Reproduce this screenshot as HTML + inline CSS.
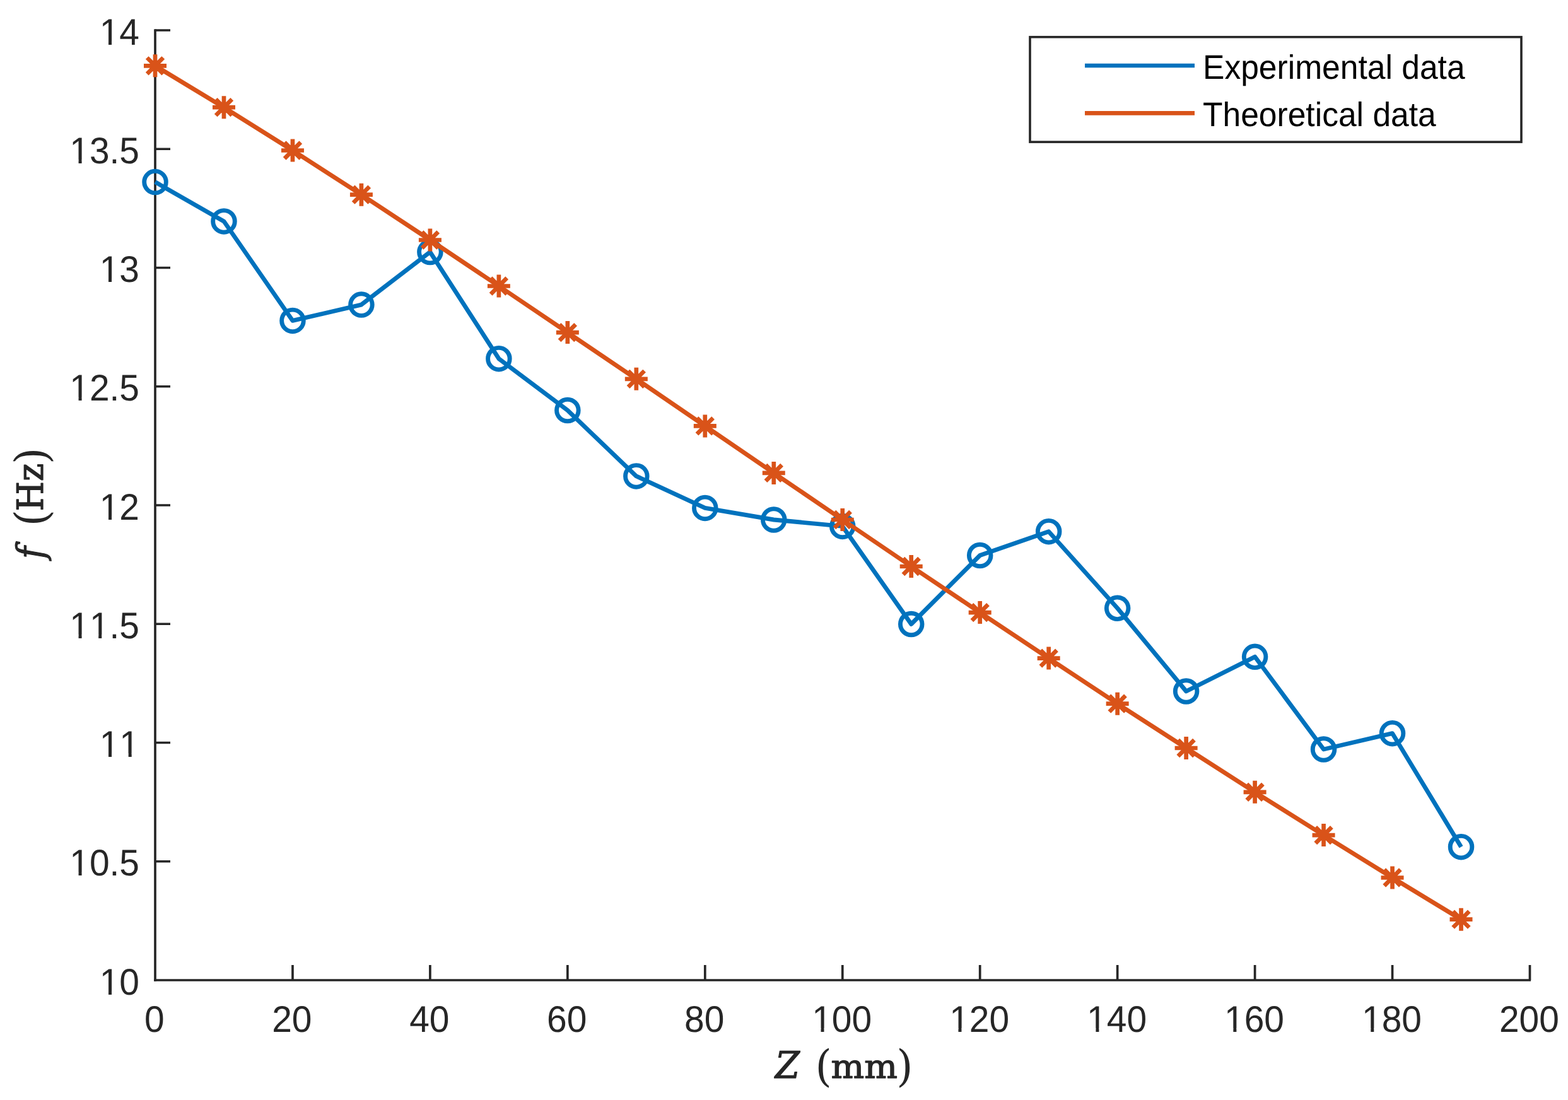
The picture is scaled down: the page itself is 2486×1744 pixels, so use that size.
<!DOCTYPE html>
<html lang="en"><head><meta charset="utf-8"><title>Frequency vs Z</title>
<style>html,body{margin:0;padding:0;background:#fff}body{width:2486px;height:1744px;overflow:hidden}svg{display:block}text{font-family:"Liberation Sans",Arial,Helvetica,sans-serif;font-kerning:none;text-rendering:geometricPrecision}.tk{font-size:58.8px;fill:#262626}.lg{font-size:54.0px;fill:#000}text.sr{font-family:"DejaVu Serif","Liberation Serif",serif;fill:#262626;stroke:#262626;stroke-linejoin:round}</style></head><body>
<svg width="2486" height="1744" viewBox="0 0 2486 1744">
<rect x="0" y="0" width="2486" height="1744" fill="#fff"/>
<g stroke="#262626" stroke-width="3.7" fill="none" stroke-linecap="butt">
<path d="M246.0 46.15 V1555.85"/>
<path d="M244.15 1554.0 H2427.0499999999997"/>
<path d="M463.95 1554.00 V1530.00 M681.90 1554.00 V1530.00 M899.85 1554.00 V1530.00 M1117.80 1554.00 V1530.00 M1335.75 1554.00 V1530.00 M1553.70 1554.00 V1530.00 M1771.65 1554.00 V1530.00 M1989.60 1554.00 V1530.00 M2207.55 1554.00 V1530.00 M2425.50 1554.00 V1530.00 M246.00 1365.75 H270.00 M246.00 1177.50 H270.00 M246.00 989.25 H270.00 M246.00 801.00 H270.00 M246.00 612.75 H270.00 M246.00 424.50 H270.00 M246.00 236.25 H270.00 M246.00 48.00 H270.00"/>
</g>
<g class="tk">
<g transform="translate(244.90 1635.80) scale(0.9677 1)"><text text-anchor="middle">0</text></g>
<g transform="translate(462.85 1635.80) scale(0.9677 1)"><text text-anchor="middle">20</text></g>
<g transform="translate(680.80 1635.80) scale(0.9677 1)"><text text-anchor="middle">40</text></g>
<g transform="translate(898.75 1635.80) scale(0.9677 1)"><text text-anchor="middle">60</text></g>
<g transform="translate(1116.70 1635.80) scale(0.9677 1)"><text text-anchor="middle">80</text></g>
<g transform="translate(1334.65 1635.80) scale(0.9677 1)"><text text-anchor="middle">100</text><rect x="-46.07" y="-5.59" width="11.81" height="7.39" fill="#fff"/><rect x="-29.07" y="-5.59" width="11.35" height="7.39" fill="#fff"/></g>
<g transform="translate(1552.60 1635.80) scale(0.9677 1)"><text text-anchor="middle">120</text><rect x="-46.07" y="-5.59" width="11.81" height="7.39" fill="#fff"/><rect x="-29.07" y="-5.59" width="11.35" height="7.39" fill="#fff"/></g>
<g transform="translate(1770.55 1635.80) scale(0.9677 1)"><text text-anchor="middle">140</text><rect x="-46.07" y="-5.59" width="11.81" height="7.39" fill="#fff"/><rect x="-29.07" y="-5.59" width="11.35" height="7.39" fill="#fff"/></g>
<g transform="translate(1988.50 1635.80) scale(0.9677 1)"><text text-anchor="middle">160</text><rect x="-46.07" y="-5.59" width="11.81" height="7.39" fill="#fff"/><rect x="-29.07" y="-5.59" width="11.35" height="7.39" fill="#fff"/></g>
<g transform="translate(2206.45 1635.80) scale(0.9677 1)"><text text-anchor="middle">180</text><rect x="-46.07" y="-5.59" width="11.81" height="7.39" fill="#fff"/><rect x="-29.07" y="-5.59" width="11.35" height="7.39" fill="#fff"/></g>
<g transform="translate(2424.40 1635.80) scale(0.9677 1)"><text text-anchor="middle">200</text></g>
<g transform="translate(221.00 1576.70) scale(0.9677 1)"><text text-anchor="end">10</text><rect x="-62.42" y="-5.59" width="11.81" height="7.39" fill="#fff"/><rect x="-45.42" y="-5.59" width="11.35" height="7.39" fill="#fff"/></g>
<g transform="translate(221.00 1388.45) scale(0.9677 1)"><text text-anchor="end">10.5</text><rect x="-111.46" y="-5.59" width="11.81" height="7.39" fill="#fff"/><rect x="-94.46" y="-5.59" width="11.35" height="7.39" fill="#fff"/></g>
<g transform="translate(221.00 1200.20) scale(0.9677 1)"><text text-anchor="end">11</text><rect x="-62.42" y="-5.59" width="11.81" height="7.39" fill="#fff"/><rect x="-45.42" y="-5.59" width="11.35" height="7.39" fill="#fff"/><rect x="-29.72" y="-5.59" width="11.81" height="7.39" fill="#fff"/><rect x="-12.72" y="-5.59" width="11.35" height="7.39" fill="#fff"/></g>
<g transform="translate(221.00 1011.95) scale(0.9677 1)"><text text-anchor="end">11.5</text><rect x="-111.46" y="-5.59" width="11.81" height="7.39" fill="#fff"/><rect x="-94.46" y="-5.59" width="11.35" height="7.39" fill="#fff"/><rect x="-78.76" y="-5.59" width="11.81" height="7.39" fill="#fff"/><rect x="-61.76" y="-5.59" width="11.35" height="7.39" fill="#fff"/></g>
<g transform="translate(221.00 823.70) scale(0.9677 1)"><text text-anchor="end">12</text><rect x="-62.42" y="-5.59" width="11.81" height="7.39" fill="#fff"/><rect x="-45.42" y="-5.59" width="11.35" height="7.39" fill="#fff"/></g>
<g transform="translate(221.00 635.45) scale(0.9677 1)"><text text-anchor="end">12.5</text><rect x="-111.46" y="-5.59" width="11.81" height="7.39" fill="#fff"/><rect x="-94.46" y="-5.59" width="11.35" height="7.39" fill="#fff"/></g>
<g transform="translate(221.00 447.20) scale(0.9677 1)"><text text-anchor="end">13</text><rect x="-62.42" y="-5.59" width="11.81" height="7.39" fill="#fff"/><rect x="-45.42" y="-5.59" width="11.35" height="7.39" fill="#fff"/></g>
<g transform="translate(221.00 258.95) scale(0.9677 1)"><text text-anchor="end">13.5</text><rect x="-111.46" y="-5.59" width="11.81" height="7.39" fill="#fff"/><rect x="-94.46" y="-5.59" width="11.35" height="7.39" fill="#fff"/></g>
<g transform="translate(221.00 70.70) scale(0.9677 1)"><text text-anchor="end">14</text><rect x="-62.42" y="-5.59" width="11.81" height="7.39" fill="#fff"/><rect x="-45.42" y="-5.59" width="11.35" height="7.39" fill="#fff"/></g>
</g>
<text class="sr" id="xlabel"><tspan x="1228.89" y="1709.25" font-size="58.44" textLength="38.77" lengthAdjust="spacingAndGlyphs" font-style="italic" stroke-width="1.3">Z</tspan> <tspan x="1292.45" y="1714.35" font-size="69.03" textLength="26.36" lengthAdjust="spacingAndGlyphs" stroke="none">(</tspan><tspan x="1317.54" y="1709.25" font-size="51.95" textLength="105.38" lengthAdjust="spacingAndGlyphs" stroke-width="1.3">mm</tspan><tspan x="1421.13" y="1714.35" font-size="69.03" textLength="26.31" lengthAdjust="spacingAndGlyphs" stroke="none">)</tspan></text>
<text class="sr" id="ylabel" transform="translate(69 802) rotate(-90)"><tspan x="-83.98" y="0.30" font-size="58.90" textLength="19.67" lengthAdjust="spacingAndGlyphs" font-style="italic" stroke-width="1.3">f</tspan> <tspan x="-32.48" y="5.23" font-size="70.45" textLength="26.52" lengthAdjust="spacingAndGlyphs" stroke="none">(</tspan><tspan x="-8.23" y="-0.65" font-size="57.20" textLength="75.67" lengthAdjust="spacingAndGlyphs" stroke-width="1.3">Hz</tspan><tspan x="66.10" y="5.23" font-size="70.45" textLength="26.47" lengthAdjust="spacingAndGlyphs" stroke="none">)</tspan></text>
<g fill="none" stroke="#0072BD" stroke-width="6.9" stroke-linejoin="round" stroke-linecap="butt">
<path d="M246.00 288.60 L354.98 350.90 L463.95 508.40 L572.92 483.10 L681.90 399.60 L790.88 568.70 L899.85 650.50 L1008.83 754.90 L1117.80 805.40 L1226.78 824.00 L1335.75 834.40 L1444.72 989.50 L1553.70 880.50 L1662.67 842.70 L1771.65 964.30 L1880.62 1096.00 L1989.60 1041.30 L2098.57 1188.00 L2207.55 1162.70 L2316.53 1342.70"/>
<circle cx="246.00" cy="288.60" r="17.3"/>
<circle cx="354.98" cy="350.90" r="17.3"/>
<circle cx="463.95" cy="508.40" r="17.3"/>
<circle cx="572.92" cy="483.10" r="17.3"/>
<circle cx="681.90" cy="399.60" r="17.3"/>
<circle cx="790.88" cy="568.70" r="17.3"/>
<circle cx="899.85" cy="650.50" r="17.3"/>
<circle cx="1008.83" cy="754.90" r="17.3"/>
<circle cx="1117.80" cy="805.40" r="17.3"/>
<circle cx="1226.78" cy="824.00" r="17.3"/>
<circle cx="1335.75" cy="834.40" r="17.3"/>
<circle cx="1444.72" cy="989.50" r="17.3"/>
<circle cx="1553.70" cy="880.50" r="17.3"/>
<circle cx="1662.67" cy="842.70" r="17.3"/>
<circle cx="1771.65" cy="964.30" r="17.3"/>
<circle cx="1880.62" cy="1096.00" r="17.3"/>
<circle cx="1989.60" cy="1041.30" r="17.3"/>
<circle cx="2098.57" cy="1188.00" r="17.3"/>
<circle cx="2207.55" cy="1162.70" r="17.3"/>
<circle cx="2316.53" cy="1342.70" r="17.3"/>
</g>
<g fill="none" stroke="#D95319" stroke-width="6.9" stroke-linejoin="round" stroke-linecap="butt">
<path d="M246.00 104.30 L354.98 170.20 L463.95 238.50 L572.92 308.70 L681.90 380.50 L790.88 453.50 L899.85 527.10 L1008.83 600.80 L1117.80 675.40 L1226.78 749.90 L1335.75 824.00 L1444.72 898.00 L1553.70 971.10 L1662.67 1043.60 L1771.65 1115.70 L1880.62 1186.00 L1989.60 1255.85 L2098.57 1324.10 L2207.55 1391.50 L2316.53 1457.70"/>
<path stroke-width="6.7" d="M228.00 104.30 h36.00 M246.00 86.30 v36.00 M233.20 91.50 l25.60 25.60 M233.20 117.10 l25.60 -25.60 M336.98 170.20 h36.00 M354.98 152.20 v36.00 M342.18 157.40 l25.60 25.60 M342.18 183.00 l25.60 -25.60 M445.95 238.50 h36.00 M463.95 220.50 v36.00 M451.15 225.70 l25.60 25.60 M451.15 251.30 l25.60 -25.60 M554.92 308.70 h36.00 M572.92 290.70 v36.00 M560.12 295.90 l25.60 25.60 M560.12 321.50 l25.60 -25.60 M663.90 380.50 h36.00 M681.90 362.50 v36.00 M669.10 367.70 l25.60 25.60 M669.10 393.30 l25.60 -25.60 M772.88 453.50 h36.00 M790.88 435.50 v36.00 M778.08 440.70 l25.60 25.60 M778.08 466.30 l25.60 -25.60 M881.85 527.10 h36.00 M899.85 509.10 v36.00 M887.05 514.30 l25.60 25.60 M887.05 539.90 l25.60 -25.60 M990.83 600.80 h36.00 M1008.83 582.80 v36.00 M996.03 588.00 l25.60 25.60 M996.03 613.60 l25.60 -25.60 M1099.80 675.40 h36.00 M1117.80 657.40 v36.00 M1105.00 662.60 l25.60 25.60 M1105.00 688.20 l25.60 -25.60 M1208.78 749.90 h36.00 M1226.78 731.90 v36.00 M1213.98 737.10 l25.60 25.60 M1213.98 762.70 l25.60 -25.60 M1317.75 824.00 h36.00 M1335.75 806.00 v36.00 M1322.95 811.20 l25.60 25.60 M1322.95 836.80 l25.60 -25.60 M1426.72 898.00 h36.00 M1444.72 880.00 v36.00 M1431.92 885.20 l25.60 25.60 M1431.92 910.80 l25.60 -25.60 M1535.70 971.10 h36.00 M1553.70 953.10 v36.00 M1540.90 958.30 l25.60 25.60 M1540.90 983.90 l25.60 -25.60 M1644.67 1043.60 h36.00 M1662.67 1025.60 v36.00 M1649.88 1030.80 l25.60 25.60 M1649.88 1056.40 l25.60 -25.60 M1753.65 1115.70 h36.00 M1771.65 1097.70 v36.00 M1758.85 1102.90 l25.60 25.60 M1758.85 1128.50 l25.60 -25.60 M1862.62 1186.00 h36.00 M1880.62 1168.00 v36.00 M1867.83 1173.20 l25.60 25.60 M1867.83 1198.80 l25.60 -25.60 M1971.60 1255.85 h36.00 M1989.60 1237.85 v36.00 M1976.80 1243.05 l25.60 25.60 M1976.80 1268.65 l25.60 -25.60 M2080.57 1324.10 h36.00 M2098.57 1306.10 v36.00 M2085.77 1311.30 l25.60 25.60 M2085.77 1336.90 l25.60 -25.60 M2189.55 1391.50 h36.00 M2207.55 1373.50 v36.00 M2194.75 1378.70 l25.60 25.60 M2194.75 1404.30 l25.60 -25.60 M2298.53 1457.70 h36.00 M2316.53 1439.70 v36.00 M2303.72 1444.90 l25.60 25.60 M2303.72 1470.50 l25.60 -25.60"/>
</g>
<rect x="1633" y="58.7" width="779" height="166.4" fill="#fff" stroke="#262626" stroke-width="3.6"/>
<path d="M1720 104 H1894" stroke="#0072BD" stroke-width="6.4" fill="none"/>
<path d="M1720 179.4 H1894" stroke="#D95319" stroke-width="6.9" fill="none"/>
<g class="lg">
<text transform="translate(1907 125) scale(0.9548 1)">Experimental data</text>
<text transform="translate(1907 200) scale(0.9548 1)">Theoretical data</text>
</g>
</svg></body></html>
